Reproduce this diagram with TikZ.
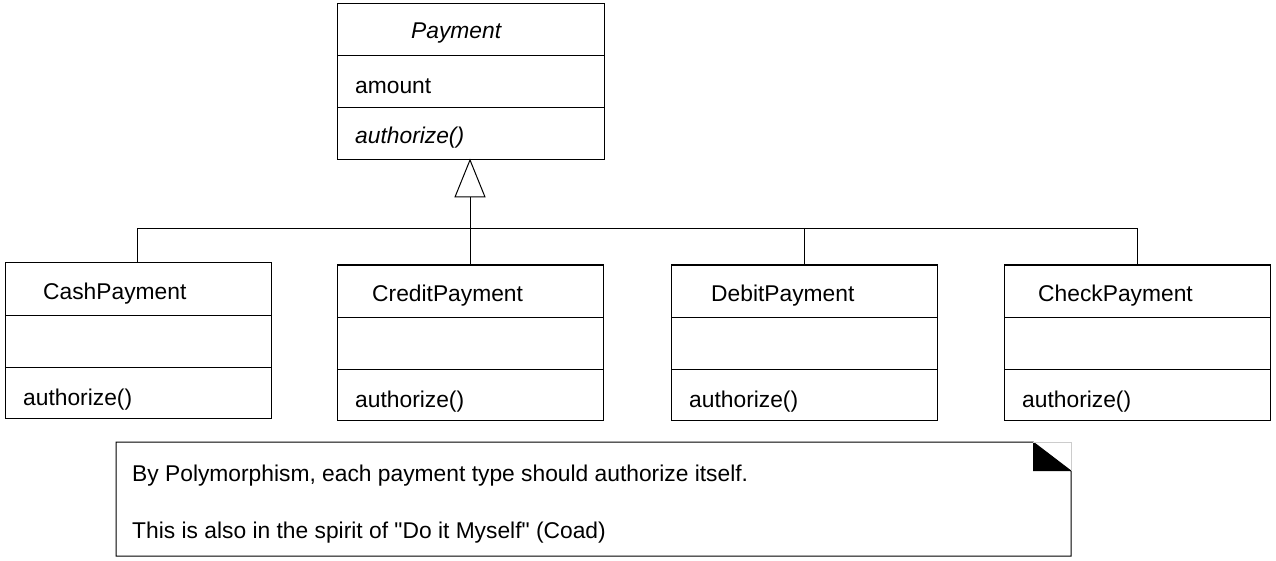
\documentclass[tikz,border=0pt]{standalone}
\usepackage{fontspec}
\setmainfont{Liberation Sans}[Ligatures=TeXOff]
\begin{document}
\begin{tikzpicture}[x=1pt,y=-1pt,
  box/.style={draw=black,line width=1pt},
  conn/.style={draw=black,line width=1pt},
  lbl/.style={anchor=base west,inner sep=0pt,font=\fontsize{22.8}{25}\selectfont},
  ilbl/.style={lbl,font=\fontsize{22.8}{25}\selectfont\itshape}]
\useasboundingbox (0,0) rectangle (1276,561);
% Payment
\draw[box] (337,4) rectangle (604,160);
\draw[box] (337,56) -- (604,56);
\draw[box] (337,108) -- (604,108);
\node[ilbl] (pname) at (411,39) {Payment};
\node[lbl] (pattr) at (355,94) {amount};
\node[ilbl] (pop) at (355,144) {authorize()};
\coordinate (papex) at (470,160);
% subclass boxes
\foreach \n/\x/\y/\tx/\nm in {cash/5/263/43/CashPayment,credit/337/265/372/CreditPayment,debit/671/265/711/DebitPayment,check/1004/265/1038/CheckPayment}{
  \draw[box] (\x,\y) rectangle ++(266,155);
  \draw[box] (\x,\y+52) -- ++(266,0);
  \draw[box] (\x,\y+104) -- ++(266,0);
  \node[lbl] (\n name) at (\tx,\y+36) {\nm};
  \node[lbl] (\n op) at (\x+18,\y+142) {authorize()};
}
\coordinate (cashtop) at (137,263);
\coordinate (credittop) at (470,265);
\coordinate (debittop) at (804,265);
\coordinate (checktop) at (1137,265);
\coordinate (tribase) at (470,197);
% generalization
\draw[conn] (cashtop) -- (137,229) -- (1137,229) -- (checktop);
\draw[conn] (debittop) -- (804,229);
\draw[conn] (credittop) -- (tribase);
\draw[conn,fill=white] (papex) -- (485,197) -- (455,197) -- cycle;
% note
\draw[box] (116,442) -- (1033,442) -- (1071,471) -- (1071,556) -- (116,556) -- cycle;
\fill[black] (1033,442) -- (1033,471) -- (1071,471) -- cycle;
\draw[line width=0.6pt,black!20] (1033,442) -- (1071,442) -- (1071,471);
\node[lbl] (n1) at (132,481) {By Polymorphism, each payment type should authorize itself.};
\node[lbl] (n2) at (132,538) {This is also in the spirit of "Do it Myself" (Coad)};
\end{tikzpicture}
\end{document}
